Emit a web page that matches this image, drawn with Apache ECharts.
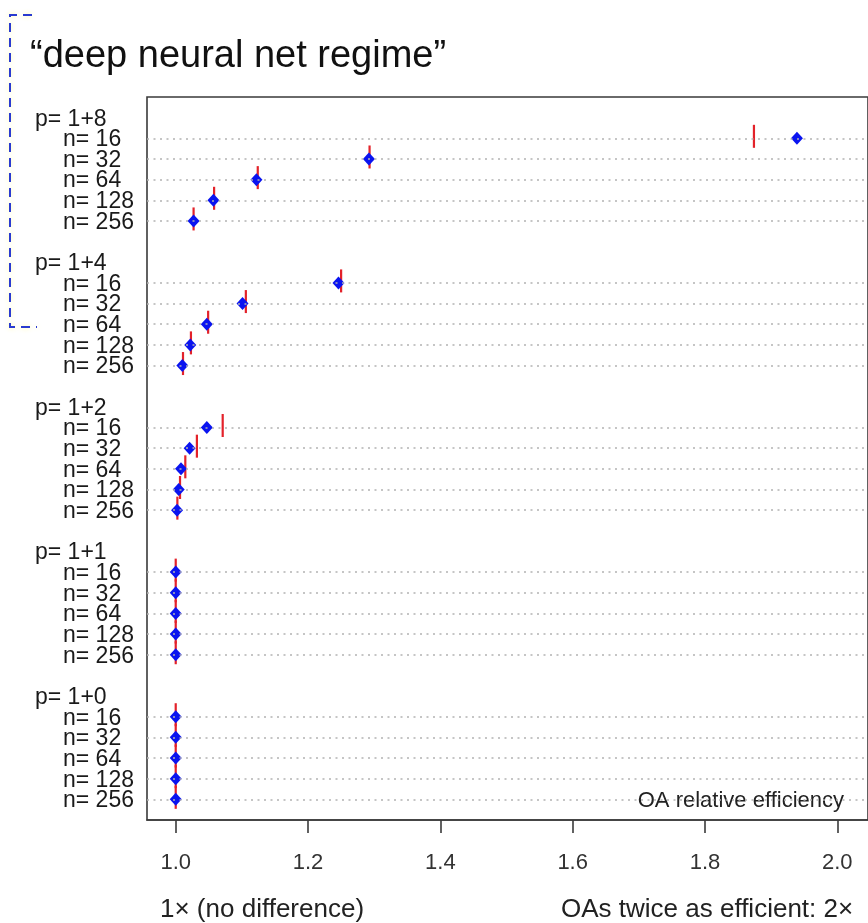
<!DOCTYPE html>
<html>
<head>
<meta charset="utf-8">
<script src="https://cdn.jsdelivr.net/npm/echarts@6/dist/echarts.min.js"></script>
<style>
html,body{margin:0;padding:0;background:#fff;}
#chart{width:868px;height:923px;}
</style>
</head>
<body>
<div id="chart"></div>
<script>
// ---- data ----
const groupLabels = ['p= 1+8', 'p= 1+4', 'p= 1+2', 'p= 1+1', 'p= 1+0'];
const sizeLabels = ['n= 16', 'n= 32', 'n= 64', 'n= 128', 'n= 256'];
// blue diamonds: OA relative efficiency (per group, n = 16..256)
const effP8 = [1.939, 1.292, 1.122, 1.057, 1.027];
const effP4 = [1.246, 1.101, 1.047, 1.022, 1.010];
const effP2 = [1.047, 1.021, 1.008, 1.0045, 1.002];
const effP1 = [1.000, 1.000, 1.000, 1.000, 1.000];
const effP0 = [1.000, 1.000, 1.000, 1.000, 1.000];
// red bars: reference value
const refP8 = [1.874, 1.293, 1.124, 1.058, 1.027];
const refP4 = [1.250, 1.106, 1.049, 1.023, 1.011];
const refP2 = [1.071, 1.032, 1.0145, 1.0065, 1.0025];
const refP1 = [1.000, 1.000, 1.000, 1.000, 1.000];
const refP0 = [1.000, 1.000, 1.000, 1.000, 1.000];
const xTicks = [1.0, 1.2, 1.4, 1.6, 1.8, 2.0];

const effGroups = [effP8, effP4, effP2, effP1, effP0];
const refGroups = [refP8, refP4, refP2, refP1, refP0];

// ---- build rows: each group = header slot + 5 rows + blank slot ----
const labelMap = {};
const rowSlots = [];
const effData = [];
const refData = [];
groupLabels.forEach((g, gi) => {
  const base = gi * 7;
  labelMap[base] = '{p|' + g + '}';
  sizeLabels.forEach((s, si) => {
    const slot = base + 1 + si;
    labelMap[slot] = '{n|' + s + '}';
    rowSlots.push(slot);
    effData.push([effGroups[gi][si], slot]);
    refData.push([refGroups[gi][si], slot]);
  });
});
const labelSlots = [-1].concat(Object.keys(labelMap).map(Number), [34]);

const FONT = "'Liberation Sans', Arial, Helvetica, sans-serif";
const chart = echarts.init(document.getElementById('chart'), null, {renderer: 'canvas'});
chart.setOption({
  animation: false,
  backgroundColor: '#ffffff',
  textStyle: {fontFamily: FONT},
  grid: {
    left: 147, top: 97, width: 728, height: 723,
    show: true, borderColor: '#3a3a3a', borderWidth: 1.6, backgroundColor: 'transparent'
  },
  xAxis: {
    type: 'value',
    min: 1 + (147 - 176) / 668,
    max: 1 + (875 - 176) / 668,
    position: 'bottom',
    axisLine: {show: true, onZero: false, lineStyle: {color: '#3a3a3a', width: 1.6}},
    axisTick: {show: true, customValues: xTicks, length: 13, lineStyle: {color: '#3a3a3a', width: 1.6}},
    axisLabel: {
      customValues: xTicks, margin: 32, fontSize: 22, color: '#333',
      fontFamily: FONT, formatter: v => v.toFixed(1)
    },
    splitLine: {show: false}
  },
  yAxis: {
    type: 'value',
    inverse: true,
    min: -1, max: 34,
    axisLine: {show: false, onZero: false},
    axisTick: {show: false},
    splitLine: {show: false},
    axisLabel: {
      customValues: labelSlots,
      hideOverlap: false,
      align: 'left',
      margin: 112,
      color: '#1a1a1a',
      formatter: v => labelMap[v] || '',
      rich: {
        p: {fontSize: 23, fontFamily: FONT, color: '#1a1a1a', padding: [3, 0, 0, 0]},
        n: {fontSize: 23, fontFamily: FONT, color: '#1a1a1a', padding: [3, 0, 0, 28]}
      }
    }
  },
  series: [
    {
      name: 'ref',
      type: 'scatter',
      z: 2,
      symbol: 'rect',
      symbolSize: [2.2, 23],
      symbolOffset: [0, -2],
      itemStyle: {color: '#e3222a', opacity: 1},
      data: refData,
      silent: true,
      markLine: {
        silent: true,
        symbol: ['none', 'none'],
        label: {show: false},
        lineStyle: {color: '#b3b3b3', type: [2, 4.5], width: 1.5},
        data: rowSlots.map(s => ({yAxis: s}))
      }
    },
    {
      name: 'OA relative efficiency',
      type: 'scatter',
      z: 3,
      symbol: 'diamond',
      symbolSize: [12, 13],
      itemStyle: {color: '#0a14f0', opacity: 1},
      data: effData,
      silent: true
    }
  ],
  graphic: [
    {
      type: 'polyline',
      shape: {points: [[32, 15], [10, 15], [10, 327], [37, 327]]},
      style: {stroke: '#2a3bd0', lineWidth: 2, lineDash: [9, 6], fill: null,
               shadowColor: 'rgba(255,250,150,0.9)', shadowBlur: 5}
    },
    {
      type: 'text', left: 30, top: 38,
      style: {text: '\u201Cdeep neural net regime\u201D', font: '38px ' + FONT, fill: '#111'}
    },
    {
      type: 'text', right: 24, top: 790,
      style: {text: 'OA relative efficiency', font: '22px ' + FONT, fill: '#222', textAlign: 'right'}
    },
    {
      type: 'text', left: 160, top: 897,
      style: {text: '1\u00D7 (no difference)', font: '26px ' + FONT, fill: '#222'}
    },
    {
      type: 'text', left: 561, top: 897,
      style: {text: 'OAs twice as efficient: 2\u00D7', font: '26px ' + FONT, fill: '#222'}
    }
  ]
});
</script>
</body>
</html>
